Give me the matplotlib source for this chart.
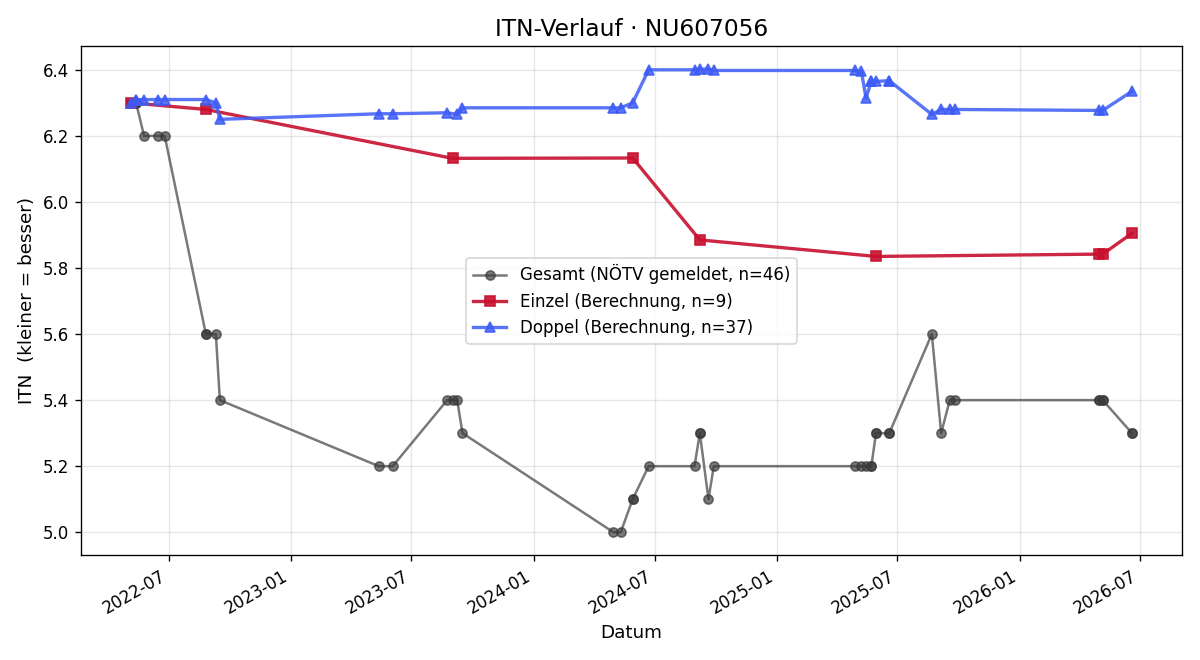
import matplotlib
matplotlib.use("Agg")
import matplotlib.pyplot as plt
import pandas as pd

# Einzel (singles) ITN calculation
einzel_dates = ["2022-05-05", "2022-08-26", "2023-09-01", "2024-05-29", "2024-09-07",
                "2025-05-30", "2026-04-30", "2026-05-06", "2026-06-19"]
einzel_itn = [6.30, 6.28, 6.132, 6.133, 5.885, 5.835, 5.842, 5.842, 5.905]

# Doppel (doubles) ITN calculation
doppel_dates = ["2022-05-05", "2022-05-13", "2022-05-13", "2022-05-25", "2022-06-15", "2022-06-25",
                "2022-08-26", "2022-09-10", "2022-09-16", "2023-05-13", "2023-06-03",
                "2023-08-24", "2023-09-08", "2023-09-16", "2024-04-30", "2024-05-11", "2024-05-29",
                "2024-06-22", "2024-08-30", "2024-09-07", "2024-09-20", "2024-09-28", "2025-04-29",
                "2025-05-08", "2025-05-15", "2025-05-23", "2025-05-23", "2025-05-30", "2025-06-19",
                "2025-06-19", "2025-08-22", "2025-09-05", "2025-09-18", "2025-09-26", "2026-04-30",
                "2026-05-06", "2026-06-19"]
doppel_itn = [6.30, 6.31, 6.31, 6.31, 6.31, 6.31,
              6.31, 6.30, 6.25, 6.267, 6.267,
              6.27, 6.265, 6.285, 6.285, 6.285, 6.30,
              6.40, 6.40, 6.402, 6.402, 6.398, 6.398,
              6.395, 6.315, 6.365, 6.365, 6.365, 6.367,
              6.367, 6.265, 6.28, 6.28, 6.28, 6.277,
              6.277, 6.335]

# Gesamt ITN as reported by NÖTV, one per match
gesamt_dates = sorted(einzel_dates + doppel_dates)
gesamt_lookup = {
    "2022-05-05": 6.3, "2022-05-13": 6.3, "2022-05-25": 6.2, "2022-06-15": 6.2, "2022-06-25": 6.2,
    "2022-08-26": 5.6, "2022-09-10": 5.6, "2022-09-16": 5.4, "2023-05-13": 5.2, "2023-06-03": 5.2,
    "2023-08-24": 5.4, "2023-09-01": 5.4, "2023-09-08": 5.4, "2023-09-16": 5.3, "2024-04-30": 5.0,
    "2024-05-11": 5.0, "2024-05-29": 5.1, "2024-06-22": 5.2, "2024-08-30": 5.2, "2024-09-07": 5.3,
    "2024-09-20": 5.1, "2024-09-28": 5.2, "2025-04-29": 5.2, "2025-05-08": 5.2, "2025-05-15": 5.2,
    "2025-05-23": 5.2, "2025-05-30": 5.3, "2025-06-19": 5.3, "2025-08-22": 5.6, "2025-09-05": 5.3,
    "2025-09-18": 5.4, "2025-09-26": 5.4, "2026-04-30": 5.4, "2026-05-06": 5.4, "2026-06-19": 5.3,
}
gesamt_itn = [gesamt_lookup[d] for d in gesamt_dates]

fig, ax = plt.subplots(figsize=(10, 5.5), dpi=120)

ax.plot(pd.to_datetime(gesamt_dates), gesamt_itn, marker="o", color="#3a3a3a", alpha=0.68,
        linewidth=1.5, markersize=5.5, label=f"Gesamt (NÖTV gemeldet, n={len(gesamt_itn)})")
ax.plot(pd.to_datetime(einzel_dates), einzel_itn, marker="s", color="#c8102e", alpha=0.9,
        linewidth=2, markersize=6.5, label=f"Einzel (Berechnung, n={len(einzel_itn)})")
ax.plot(pd.to_datetime(doppel_dates), doppel_itn, marker="^", color="#3d5cf5", alpha=0.85,
        linewidth=2, markersize=6.5, label=f"Doppel (Berechnung, n={len(doppel_itn)})")

ax.set_title("ITN-Verlauf · NU607056", fontsize=14)
ax.set_xlabel("Datum", fontsize=11)
ax.set_ylabel("ITN  (kleiner = besser)", fontsize=11)
ax.grid(True, alpha=0.3)
ax.legend(loc="center")
fig.autofmt_xdate()

fig.tight_layout()
fig.savefig("out.png")
